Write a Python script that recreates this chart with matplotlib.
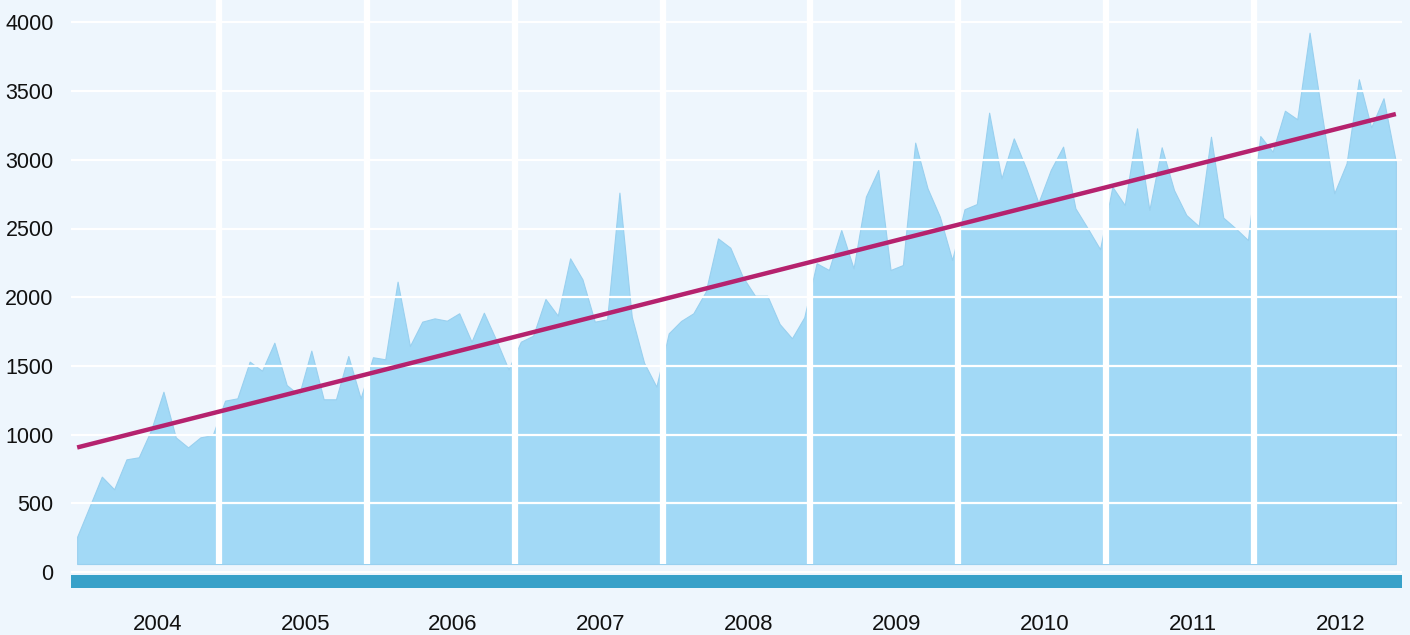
import numpy as np
import matplotlib
matplotlib.use("Agg")
import matplotlib.pyplot as plt

# monthly values
years = [2004, 2005, 2006, 2007, 2008, 2009, 2010, 2011, 2012]
v2004 = [257, 475, 694, 602, 820, 835, 1033, 1312, 980, 907, 980, 997]
v2005 = [1247, 1264, 1531, 1465, 1669, 1361, 1288, 1611, 1257, 1257, 1572, 1264]
v2006 = [1563, 1548, 2113, 1645, 1822, 1846, 1829, 1883, 1676, 1887, 1689, 1475]
v2007 = [1676, 1720, 1987, 1866, 2283, 2130, 1822, 1839, 2761, 1858, 1523, 1349]
v2008 = [1737, 1827, 1883, 2040, 2428, 2360, 2149, 2011, 2011, 1805, 1701, 1854]
v2009 = [2247, 2198, 2489, 2210, 2732, 2926, 2198, 2234, 3125, 2793, 2586, 2271]
v2010 = [2640, 2678, 3343, 2865, 3156, 2938, 2688, 2926, 3096, 2647, 2501, 2349]
v2011 = [2804, 2671, 3229, 2635, 3091, 2780, 2598, 2518, 3168, 2579, 2501, 2416]
v2012 = [3173, 3059, 3357, 3295, 3925, 3330, 2756, 2974, 3586, 3236, 3448, 2986]
yticks = [0, 500, 1000, 1500, 2000, 2500, 3000, 3500, 4000]

values = np.array(v2004 + v2005 + v2006 + v2007 + v2008 + v2009 + v2010 + v2011 + v2012)
x = np.array([y + (m + 0.5) / 12 for y in years for m in range(12)])

bg = "#eef6fd"
area_col = "#a2d9f6"
bar_col = "#38a1c9"
trend_col = "#b5226e"
area_base = 58

W, H = 1410, 635
fig = plt.figure(figsize=(W / 100, H / 100), dpi=100, facecolor=bg)
# axes placed in pixels: x 71..1402, y 0..600 (value 0 sits at pixel 572)
ax = fig.add_axes([71 / W, (H - 600) / H, (1402 - 71) / W, 600 / H])
ax.set_facecolor(bg)
ppu = 0.1374
ax.set_xlim(years[0], years[-1] + 1)
ax.set_ylim(-(600 - 572) / ppu, 572 / ppu)

ax.fill_between(x, area_base, values, color=area_col, lw=0.8, edgecolor="#99d0ef", zorder=1)

# year separators
ax.vlines(years[1:], area_base, 572 / ppu, color="white", lw=4.5, zorder=3)

# trend line
k, b = np.polyfit(x, values, 1)
ax.plot(x[[0, -1]], k * x[[0, -1]] + b - 12, color=trend_col, lw=3.2, zorder=4,
        solid_capstyle="butt")

# bottom bar
ax.axhspan(-117, -22, color=bar_col, zorder=2, lw=0)

ax.set_yticks(yticks)
ax.set_yticklabels([str(t) for t in yticks], family=["Liberation Sans", "DejaVu Sans"],
                   fontsize=15.5, color="#111111")
ax.set_xticks([y + 0.5 + 1 / 12 for y in years])
ax.set_xticklabels([str(y) for y in years], family=["Liberation Sans", "DejaVu Sans"],
                   fontsize=16, color="#111111")
ax.tick_params(length=0)
ax.tick_params(axis="y", pad=12.5)
ax.tick_params(axis="x", pad=10)
ax.grid(axis="y", color="white", lw=1.6, zorder=2.5)
ax.set_axisbelow(False)
for s in ax.spines.values():
    s.set_visible(False)

fig.savefig("out.png", dpi=100, facecolor=bg)
